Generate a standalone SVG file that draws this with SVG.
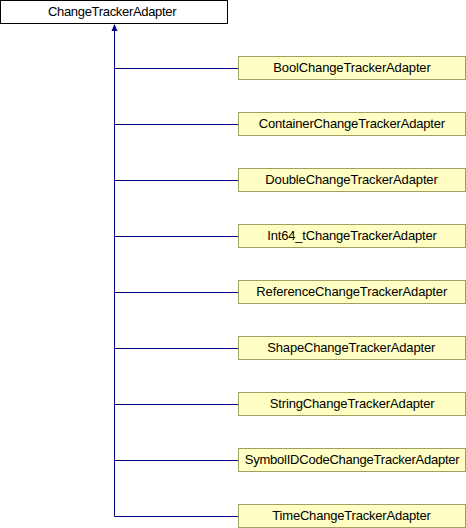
<svg xmlns="http://www.w3.org/2000/svg" width="466" height="528" viewBox="0 0 466 528">
<style>
.n rect{fill:#ffffc4;stroke:#a0a060;stroke-width:1}
.base rect{fill:#ffffff;stroke:#000000;stroke-width:1}
text{font-family:"Liberation Sans",Arial,sans-serif;font-size:13px;fill:#000}
.e{stroke:#000080;stroke-width:1;fill:none}
</style>
<g id="edges">
<path class="e" d="M114.5,516.5 L114.5,28"/>
<path d="M114.5,24 L111.5,31 L117.5,31 Z" fill="#000080"/>
<path class="e" d="M114.5,68.5 H238 M114.5,124.5 H238 M114.5,180.5 H238 M114.5,236.5 H238 M114.5,292.5 H238 M114.5,348.5 H238 M114.5,404.5 H238 M114.5,460.5 H238 M114.5,516.5 H238"/>
</g>
<g id="ChangeTrackerAdapter" class="base"><rect x="0.5" y="0.5" width="227" height="23"/><text x="48" y="16" textLength="128.5" lengthAdjust="spacing">ChangeTrackerAdapter</text></g>
<g id="BoolChangeTrackerAdapter" class="n"><rect x="238.5" y="56.5" width="227" height="23"/><text x="273.3" y="72" textLength="157.5" lengthAdjust="spacing">BoolChangeTrackerAdapter</text></g>
<g id="ContainerChangeTrackerAdapter" class="n"><rect x="238.5" y="112.5" width="227" height="23"/><text x="258.7" y="128" textLength="186.5" lengthAdjust="spacing">ContainerChangeTrackerAdapter</text></g>
<g id="DoubleChangeTrackerAdapter" class="n"><rect x="238.5" y="168.5" width="227" height="23"/><text x="265.3" y="184" textLength="172.5" lengthAdjust="spacing">DoubleChangeTrackerAdapter</text></g>
<g id="Int64_tChangeTrackerAdapter" class="n"><rect x="238.5" y="224.5" width="227" height="23"/><text x="267.3" y="240" textLength="169.5" lengthAdjust="spacing">Int64_tChangeTrackerAdapter</text></g>
<g id="ReferenceChangeTrackerAdapter" class="n"><rect x="238.5" y="280.5" width="227" height="23"/><text x="256.3" y="296" textLength="191" lengthAdjust="spacing">ReferenceChangeTrackerAdapter</text></g>
<g id="ShapeChangeTrackerAdapter" class="n"><rect x="238.5" y="336.5" width="227" height="23"/><text x="267.3" y="352" textLength="168" lengthAdjust="spacing">ShapeChangeTrackerAdapter</text></g>
<g id="StringChangeTrackerAdapter" class="n"><rect x="238.5" y="392.5" width="227" height="23"/><text x="269.7" y="408" textLength="165" lengthAdjust="spacing">StringChangeTrackerAdapter</text></g>
<g id="SymbolIDCodeChangeTrackerAdapter" class="n"><rect x="238.5" y="448.5" width="227" height="23"/><text x="244.7" y="464" textLength="215" lengthAdjust="spacing">SymbolIDCodeChangeTrackerAdapter</text></g>
<g id="TimeChangeTrackerAdapter" class="n"><rect x="238.5" y="504.5" width="227" height="23"/><text x="272.3" y="520" textLength="158.5" lengthAdjust="spacing">TimeChangeTrackerAdapter</text></g>
</svg>
